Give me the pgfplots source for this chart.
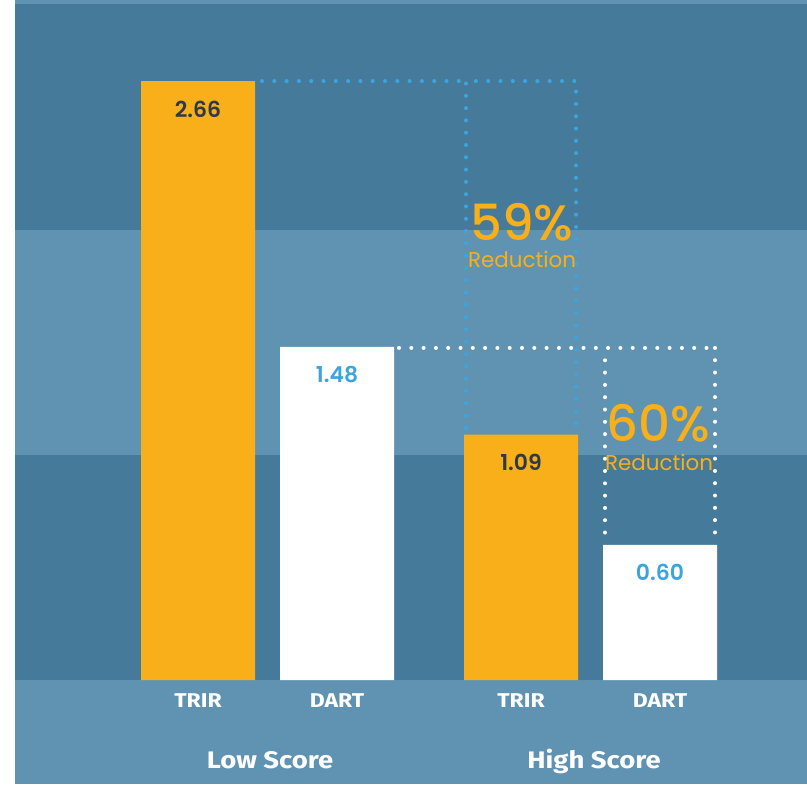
\documentclass[border=0pt]{standalone}
\usepackage{pgfplots}
\pgfplotsset{compat=1.18}
\usepackage{fontspec}
\setmainfont{Fira Sans}
\newfontfamily\grp{Fira Sans}[FakeStretch=1.15]
\newfontfamily\pop{Poppins}
\newfontfamily\popm{Poppins Medium}
\newfontfamily\popsb{Poppins SemiBold}
\definecolor{darkbg}{HTML}{467A9A}
\definecolor{lightbg}{HTML}{6093B2}
\definecolor{orng}{HTML}{F9AF19}
\definecolor{bluet}{HTML}{3AA5DF}
\definecolor{darkt}{HTML}{2E3B46}
\begin{document}
\begin{tikzpicture}
\begin{axis}[
  axis on top,
  scale only axis, width=807bp, height=680bp,
  xmin=0, xmax=807, ymin=0, ymax=3.0195,
  clip=false,
  axis line style={draw=none},
  ytick=\empty,
  xtick={198,337,521,660},
  xticklabels={TRIR,DART,TRIR,DART},
  major tick length=0pt,
  xticklabel style={font=\grp\bfseries\fontsize{20}{20}\selectfont, text=white, anchor=north, inner sep=0pt, yshift=-13.3bp},
  /pgf/number format/fixed,
  /pgf/number format/fixed zerofill,
  /pgf/number format/precision=2,
  /pgf/number format/assume math mode=true,
  dotline/.style={line width=4bp, line cap=round, dash pattern=on 0bp off 12.3bp},
]
\fill[white] (axis cs:0,-0.4618) rectangle (axis cs:807,3.0195);
\fill[darkbg] (axis cs:15,0) rectangle (axis cs:807,3.0195);
\fill[lightbg] (axis cs:15,1) rectangle (axis cs:807,2);
\fill[lightbg] (axis cs:15,3.0) rectangle (axis cs:807,3.0195);
\fill[lightbg] (axis cs:15,-0.4618) rectangle (axis cs:807,0);

\addplot[ybar, bar width=114, bar shift=0pt, fill=orng, draw=none,
  nodes near coords,
  every node near coord/.append style={font=\popsb\fontsize{22}{22}\selectfont, text=darkt, anchor=base, yshift=-36bp}]
  coordinates {(198,2.66) (521,1.09)};
\addplot[ybar, bar width=114, bar shift=0pt, fill=white, draw=none,
  nodes near coords,
  every node near coord/.append style={font=\popsb\fontsize{22}{22}\selectfont, text=bluet, anchor=base, yshift=-36bp}]
  coordinates {(337,1.48) (660,0.60)};

\addplot[dotline, bluet, mark=none] coordinates {(262,2.66) (466,2.66)};
\addplot[dotline, bluet, mark=none] coordinates {(466,1.12) (466,2.66) (576,2.66) (576,1.12)};
\addplot[dotline, white, mark=none] coordinates {(399,1.475) (715,1.475)};
\addplot[dotline, white, mark=none] coordinates {(605,1.42) (605,0.62)};
\addplot[dotline, white, mark=none] coordinates {(715,1.475) (715,0.62)};

\node[font=\popm\fontsize{50}{50}\selectfont, text=orng, anchor=base, inner sep=0pt] at (axis cs:522,1.954) {59\%};
\node[font=\pop\fontsize{21.5}{21.5}\selectfont, text=orng, anchor=base, inner sep=0pt] at (axis cs:522,1.833) {Reduction};
\node[font=\popm\fontsize{50}{50}\selectfont, text=orng, anchor=base, inner sep=0pt] at (axis cs:658,1.058) {60\%};
\node[font=\pop\fontsize{21.5}{21.5}\selectfont, text=orng, anchor=base, inner sep=0pt] at (axis cs:659,0.929) {Reduction};

\node[font=\grp\bfseries\fontsize{24}{24}\selectfont, text=white, anchor=base] at (axis cs:270,-0.3908) {Low Score};
\node[font=\grp\bfseries\fontsize{24}{24}\selectfont, text=white, anchor=base] at (axis cs:594,-0.3908) {High Score};
\end{axis}
\end{tikzpicture}
\end{document}
